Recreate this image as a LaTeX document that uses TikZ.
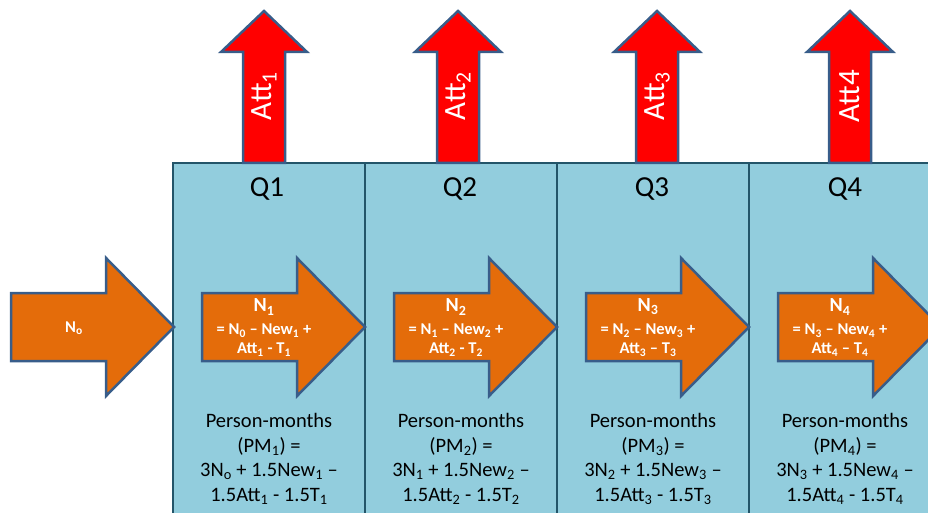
\documentclass[tikz,border=0pt]{standalone}
\usepackage{fontspec}
\setmainfont{Carlito}
\newcommand\sbs[1]{\textsubscript{#1}}
\definecolor{boxfill}{RGB}{146,205,221}
\definecolor{boxline}{RGB}{35,85,105}
\definecolor{arrline}{RGB}{56,93,138}
\definecolor{orng}{RGB}{228,108,10}
\tikzset{
  qbox/.style={fill=boxfill,draw=boxline,line width=2pt},
  orarrow/.style={fill=orng,draw=arrline,line width=2.5pt,line join=miter},
  redarrow/.style={fill=red,draw=arrline,line width=2.5pt,line join=miter},
  ntext/.style={text=white,font=\bfseries\fontsize{16.5}{19}\selectfont,align=center,inner sep=0pt},
  ntitle/.style={text=white,font=\bfseries\fontsize{20}{22}\selectfont,inner sep=0pt},
  atext/.style={text=white,font=\fontsize{31}{33}\selectfont,rotate=90,inner sep=0pt},
  qlabel/.style={font=\fontsize{29}{32}\selectfont,inner sep=0pt},
  pmtext/.style={font=\fontsize{20.5}{24.6}\selectfont,align=center,inner sep=0pt}
}
\begin{document}
\begin{tikzpicture}[x=1pt,y=-1pt]
\useasboundingbox (0,0) rectangle (928,513);
\clip (0,0) rectangle (928,513);
% boxes
\foreach \L in {173,365,557,749}{
  \draw[qbox] (\L,163) rectangle (\L+192,530);
}
% red arrows
\foreach \c in {264,458,657,850}{
  \draw[redarrow] (\c-21,163) -- (\c-21,52) -- (\c-43,52) -- (\c,11) -- (\c+43,52) -- (\c+21,52) -- (\c+21,163) -- cycle;
}
% orange arrows
\foreach \L in {-18,173,365,557,749}{
  \draw[orarrow] (\L+29,293) -- (\L+124,293) -- (\L+124,258) -- (\L+192,327) -- (\L+124,396) -- (\L+124,361) -- (\L+29,361) -- cycle;
}
% att labels
\node[atext] (a1) at (264,96) {Att\sbs{1}};
\node[atext] (a2) at (458,96) {Att\sbs{2}};
\node[atext] (a3) at (657,96) {Att\sbs{3}};
\node[atext] (a4) at (850,96) {Att4};
% Q labels
\node[qlabel] (q1) at (267,189) {Q1};
\node[qlabel] (q2) at (460,189) {Q2};
\node[qlabel] (q3) at (652,189) {Q3};
\node[qlabel] (q4) at (845,189) {Q4};
% N labels
\node[ntext] (n0) at (74,328) {N\sbs{o}};
\foreach \L/\i/\j/\m in {173/1/0/-, 365/2/1/-, 557/3/2/–, 749/4/3/–}{
  \node[ntitle] (nt\i) at (\L+91,307) {N\sbs{\i}};
  \node[ntext] (nf\i) at (\L+91,340) {= N\sbs{\j} – New\sbs{\i} +\\Att\sbs{\i} \m{} T\sbs{\i}};
}
% person-months
\node[pmtext] (pm1) at (269,459) {Person-months\\(PM\sbs{1}) =\\3N\sbs{o} + 1.5New\sbs{1} –\\1.5Att\sbs{1} - 1.5T\sbs{1}};
\node[pmtext] (pm2) at (461,459) {Person-months\\(PM\sbs{2}) =\\3N\sbs{1} + 1.5New\sbs{2} –\\1.5Att\sbs{2} - 1.5T\sbs{2}};
\node[pmtext] (pm3) at (653,459) {Person-months\\(PM\sbs{3}) =\\3N\sbs{2} + 1.5New\sbs{3} –\\1.5Att\sbs{3} - 1.5T\sbs{3}};
\node[pmtext] (pm4) at (845,459) {Person-months\\(PM\sbs{4}) =\\3N\sbs{3} + 1.5New\sbs{4} –\\1.5Att\sbs{4} - 1.5T\sbs{4}};
\end{tikzpicture}
\end{document}
